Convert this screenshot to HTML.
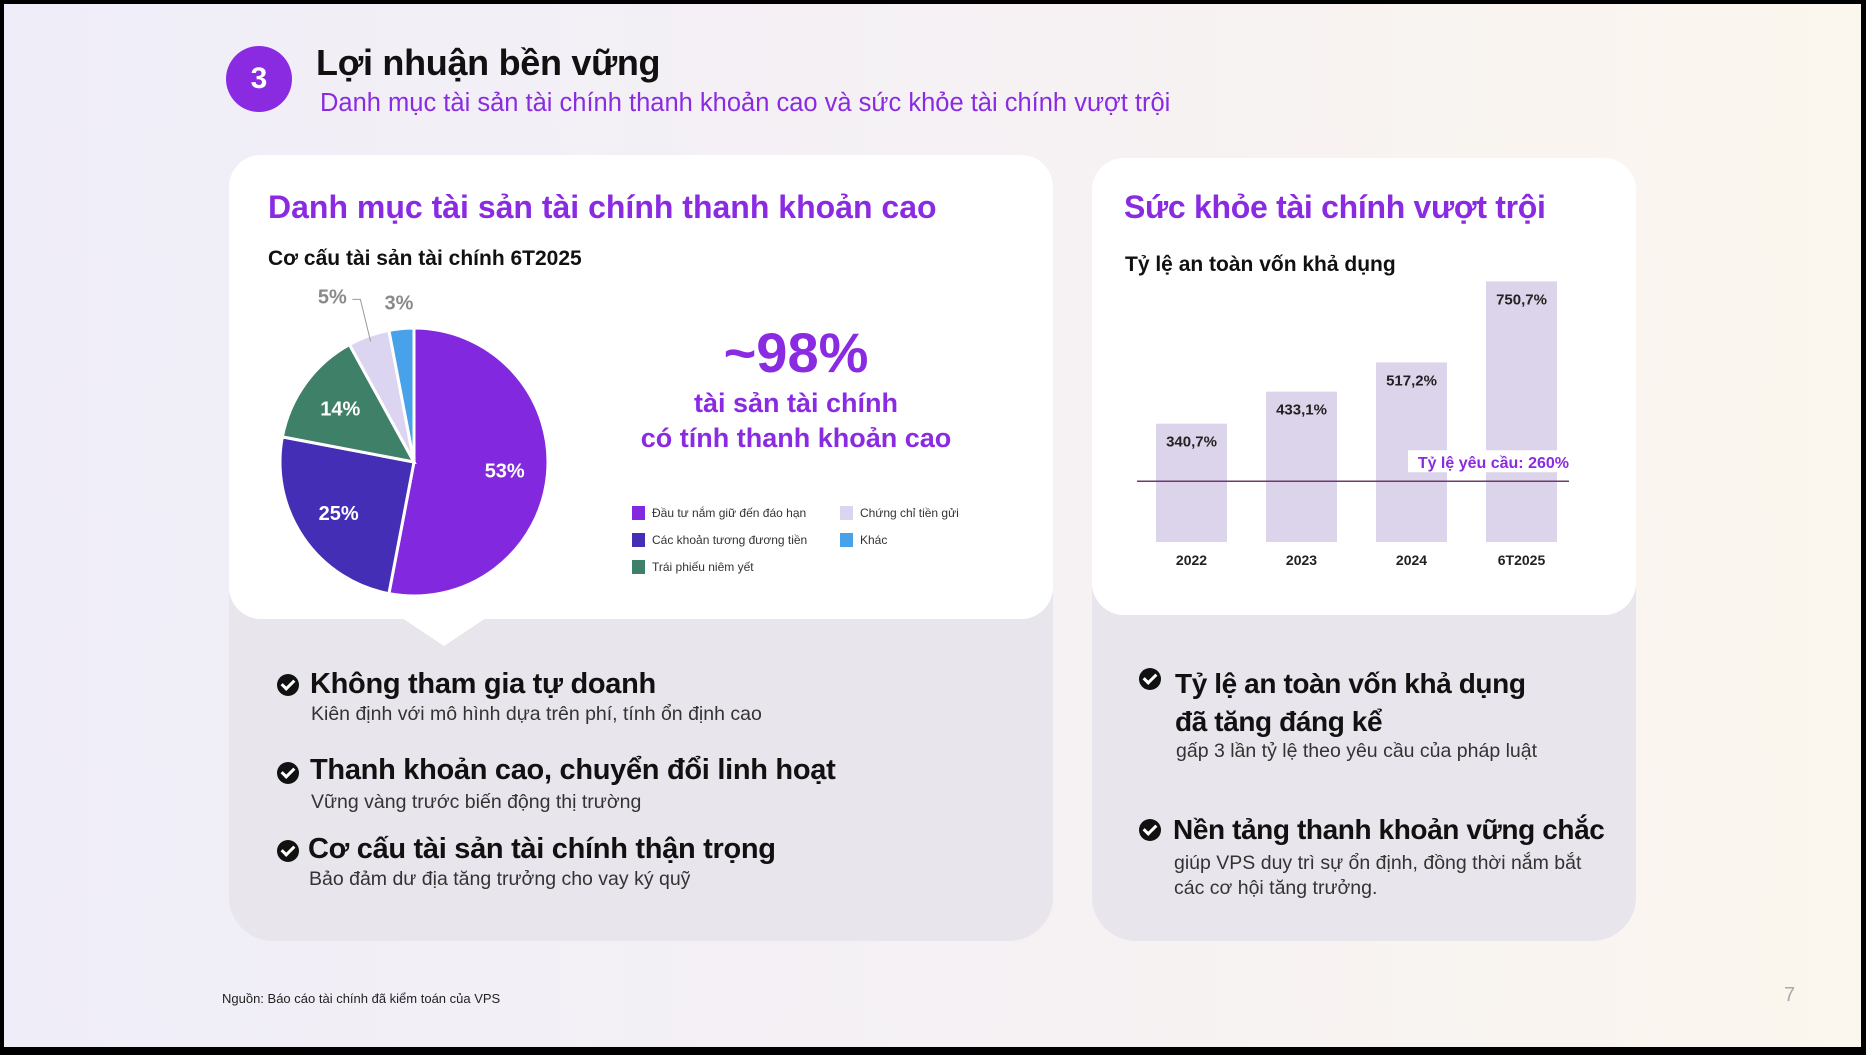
<!DOCTYPE html>
<html><head><meta charset="utf-8">
<style>
*{margin:0;padding:0;box-sizing:border-box}
body{width:1866px;height:1055px;overflow:hidden;font-family:"Liberation Sans","Noto Sans CJK SC",sans-serif;}
#page{position:relative;width:1866px;height:1055px;background:linear-gradient(90deg,#efedf8 0%,#f5f1f4 50%,#fbf6ee 100%);}
.bd{position:absolute;background:#000}
.abs{position:absolute;white-space:nowrap}
.purple{color:#8a2be2}
.h{font-weight:bold;font-size:29px;color:#111;letter-spacing:-0.3px}
.hr{font-size:28px;letter-spacing:-0.4px}
.s{font-size:19.5px;color:#333}
.chk{position:absolute;width:22px;height:22px;border-radius:50%;background:#111}
.chk:after{content:"";position:absolute;left:7px;top:3px;width:5px;height:10px;border:solid #fff;border-width:0 3px 3px 0;transform:rotate(45deg)}
</style></head><body>
<div id="page">
<div class="abs" style="left:226px;top:46px;width:66px;height:66px;border-radius:50%;background:#8a2be2;color:#fff;font-weight:bold;font-size:30px;text-align:center;line-height:66px">3</div>
<div class="abs" style="left:316px;top:42px;font-size:36px;font-weight:bold;color:#111;letter-spacing:-0.3px">Lợi nhuận bền vững</div>
<div class="abs purple" style="left:320px;top:89px;font-size:25.5px">Danh mục tài sản tài chính thanh khoản cao và sức khỏe tài chính vượt trội</div>

<!-- left card -->
<div class="abs" style="left:229px;top:155px;width:824px;height:786px;background:#e9e5ec;border-radius:44px"></div>
<div class="abs" style="left:229px;top:155px;width:824px;height:464px;background:#fff;border-radius:32px"></div>
<svg class="abs" style="left:0;top:0" width="1866" height="1055">
<polygon points="402,618 486,618 444,646" fill="#fff"/>
<polygon points="1178,614 1258,614 1218,642" fill="#fff"/>
</svg>
<div class="abs purple" style="left:268px;top:189px;font-size:32px;font-weight:bold">Danh mục tài sản tài chính thanh khoản cao</div>
<div class="abs" style="left:268px;top:247px;font-size:21px;font-weight:bold;color:#111">Cơ cấu tài sản tài chính 6T2025</div>
<svg id="pie" class="abs" style="left:0;top:0" width="1866" height="1055"></svg>
<div class="abs purple" style="left:596px;top:320px;width:400px;text-align:center;font-size:56px;font-weight:bold">~98%</div>
<div class="abs purple" style="left:596px;top:386px;width:400px;text-align:center;font-size:27px;font-weight:bold;line-height:35px">tài sản tài chính<br>có tính thanh khoản cao</div>
<div id="legend"></div>

<div class="chk" style="left:277px;top:674px"></div>
<div class="abs h" style="left:310px;top:668px">Không tham gia tự doanh</div>
<div class="abs s" style="left:311px;top:703px">Kiên định với mô hình dựa trên phí, tính ổn định cao</div>
<div class="chk" style="left:277px;top:762px"></div>
<div class="abs h" style="left:310px;top:754px">Thanh khoản cao, chuyển đổi linh hoạt</div>
<div class="abs s" style="left:311px;top:791px">Vững vàng trước biến động thị trường</div>
<div class="chk" style="left:277px;top:840px"></div>
<div class="abs h" style="left:308px;top:833px">Cơ cấu tài sản tài chính thận trọng</div>
<div class="abs s" style="left:309px;top:868px">Bảo đảm dư địa tăng trưởng cho vay ký quỹ</div>

<!-- right card -->
<div class="abs" style="left:1092px;top:158px;width:544px;height:783px;background:#e9e5ec;border-radius:44px"></div>
<div class="abs" style="left:1092px;top:158px;width:544px;height:457px;background:#fff;border-radius:32px"></div>
<div class="abs purple" style="left:1124px;top:189px;font-size:32px;font-weight:bold;letter-spacing:-0.3px">Sức khỏe tài chính vượt trội</div>
<div class="abs" style="left:1125px;top:253px;font-size:21px;font-weight:bold;color:#111">Tỷ lệ an toàn vốn khả dụng</div>
<svg id="bars" class="abs" style="left:0;top:0" width="1866" height="1055"></svg>

<div class="chk" style="left:1139px;top:668px"></div>
<div class="abs h hr" style="left:1175px;top:665px;line-height:38px">Tỷ lệ an toàn vốn khả dụng<br>đã tăng đáng kể</div>
<div class="abs s" style="left:1176px;top:740px">gấp 3 lần tỷ lệ theo yêu cầu của pháp luật</div>
<div class="chk" style="left:1139px;top:819px"></div>
<div class="abs h hr" style="left:1173px;top:814px">Nền tảng thanh khoản vững chắc</div>
<div class="abs s" style="left:1174px;top:851px;line-height:25px">giúp VPS duy trì sự ổn định, đồng thời nắm bắt<br>các cơ hội tăng trưởng.</div>

<div class="abs" style="left:222px;top:991px;font-size:13px;color:#222">Nguồn: Báo cáo tài chính đã kiểm toán của VPS</div>
<div class="abs" style="left:1784px;top:984px;font-size:20px;color:#aaa">7</div>

<div class="bd" style="left:0;top:0;width:1866px;height:4px"></div>
<div class="bd" style="left:0;top:0;width:4px;height:1055px"></div>
<div class="bd" style="right:0;top:0;width:5px;height:1055px"></div>
<div class="bd" style="left:0;bottom:0;width:1866px;height:8px"></div>
</div>
<script>
const pieLabels=["Đầu tư nắm giữ đến đáo hạn","Các khoản tương đương tiền","Trái phiếu niêm yết","Chứng chỉ tiền gửi","Khác"];
const pieValues=[53,25,14,5,3];
const pieColors=["#8229e0","#452eb6","#3f8068","#dcd5f2","#47a2ea"];
const barCats=["2022","2023","2024","6T2025"];
const barValues=[340.7,433.1,517.2,750.7];
const barLabels=["340,7%","433,1%","517,2%","750,7%"];
const refValue=175;
const refLabel="Tỷ lệ yêu cầu: 260%";
const NS="http://www.w3.org/2000/svg";
function mk(p,t,a){const e=document.createElementNS(NS,t);for(const k in a)e.setAttribute(k,a[k]);p.appendChild(e);return e;}
// pie
const pie=document.getElementById('pie');
const cx=414,cy=462,r=134;
const tot=pieValues.reduce((a,b)=>a+b,0);
let ang=0;
pieValues.forEach((v,i)=>{
  const a0=ang/tot*2*Math.PI, a1=(ang+v)/tot*2*Math.PI; ang+=v;
  const x0=cx+r*Math.sin(a0),y0=cy-r*Math.cos(a0),x1=cx+r*Math.sin(a1),y1=cy-r*Math.cos(a1);
  const p=mk(pie,'path',{d:`M${cx},${cy} L${x0},${y0} A${r},${r} 0 ${a1-a0>Math.PI?1:0} 1 ${x1},${y1} Z`,fill:pieColors[i],stroke:'#fff','stroke-width':3});
  
  
  const am=(a0+a1)/2;
  const inside=v>=10;
  const lr=inside?r*0.68:r+(i===3?42:26);
  let lx=cx+lr*Math.sin(am), ly=cy-lr*Math.cos(am);
  if(i===3){lx-=22;}
  const t=mk(pie,'text',{x:lx,y:ly+7,'text-anchor':'middle','font-size':20,'font-weight':'bold',fill:inside?'#fff':'#8a8a8a','font-family':'Liberation Sans, sans-serif'});
  t.textContent=v+'%';
  
  
  if(i===3){
    const ex=cx+(r-6)*Math.sin(am), ey=cy-(r-6)*Math.cos(am);
    const l=mk(pie,'polyline',{points:`${lx+20},${ly+3} ${lx+28},${ly+3} ${ex},${ey}`,fill:'none',stroke:'#999','stroke-width':1});
    
    
  }
});
// legend
const leg=document.getElementById('legend');
const legPos=[[632,513],[632,540],[632,567],[840,513],[840,540]];
pieLabels.forEach((n,i)=>{
  const d=document.createElement('div');
  d.className='abs';
  d.style.cssText=`left:${legPos[i][0]}px;top:${legPos[i][1]-8}px;font-size:12px;color:#333;line-height:16px`;
  d.innerHTML=`<span style="display:inline-block;width:13px;height:14px;background:${pieColors[i]};vertical-align:-3px;margin-right:7px"></span>${n}`;
  
  
  leg.appendChild(d);
});
// bars
const bs=document.getElementById('bars');
const baseY=542, pxPer=0.3472, x0=1156, step=110, bw=71;
const y=v=>baseY-v*pxPer;
barValues.forEach((v,i)=>{
  const bx=x0+i*step;
  const b=mk(bs,'rect',{x:bx,y:y(v),width:bw,height:baseY-y(v),fill:'#dcd4ea'});
  
  
  const t=mk(bs,'text',{x:bx+bw/2,y:y(v)+23,'text-anchor':'middle','font-size':15,'font-weight':'bold',fill:'#222','font-family':'Liberation Sans, sans-serif'});
  t.textContent=barLabels[i];
  
  
  const c=mk(bs,'text',{x:bx+bw/2,y:565,'text-anchor':'middle','font-size':14,'font-weight':'bold',fill:'#222','font-family':'Liberation Sans, sans-serif'});
  c.textContent=barCats[i];
  
  
});
const ry=y(refValue);
const rl=mk(bs,'line',{x1:1137,x2:1569,y1:ry,y2:ry,stroke:'#6b3d6e','stroke-width':1.5});


mk(bs,'rect',{x:1408,y:ry-31,width:162,height:22,fill:'#fff'});
const rt=mk(bs,'text',{x:1569,y:ry-13,'text-anchor':'end','font-size':16,'font-weight':'bold',fill:'#8a2be2','font-family':'Liberation Sans, sans-serif'});
rt.textContent=refLabel;


</script>
</body></html>
